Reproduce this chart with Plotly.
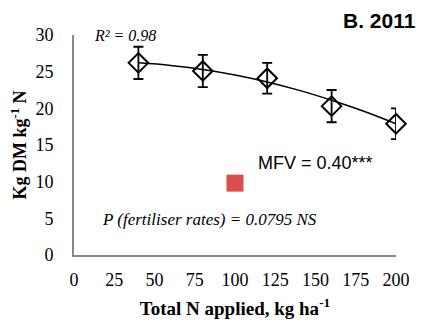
import plotly.graph_objects as go

n_rates = [40, 80, 120, 160, 200]
kg_dm = [26.2, 25.1, 24.1, 20.3, 17.9]
err = [2.2, 2.2, 2.1, 2.2, 2.1]

trend_x = [40, 60, 80, 100, 120, 140, 160, 180, 200]
trend_y = [26.2, 25.85, 25.3, 24.55, 23.6, 22.45, 21.1, 19.6, 17.9]

mfv_x = [100]
mfv_y = [9.8]

x_ticks = [0, 25, 50, 75, 100, 125, 150, 175, 200]
y_ticks = [0, 5, 10, 15, 20, 25, 30]

times = "Times New Roman, Liberation Serif, serif"
sans = "Liberation Sans, Arial, sans-serif"

fig = go.Figure()
fig.add_trace(go.Scatter(x=trend_x, y=trend_y, mode="lines", line=dict(color="black", width=1.5, shape="spline"),
                         hoverinfo="skip", showlegend=False))
fig.add_trace(go.Scatter(x=n_rates, y=kg_dm, mode="markers",
                         marker=dict(symbol="diamond-open", size=15, color="black", line=dict(width=2, color="black")),
                         error_y=dict(type="data", array=err, visible=True, color="black", thickness=1.8, width=5),
                         showlegend=False, cliponaxis=False))
fig.add_trace(go.Scatter(x=mfv_x, y=mfv_y, mode="markers",
                         marker=dict(symbol="square", size=17, color="#DC4D4D"),
                         showlegend=False, cliponaxis=False))

L, R, T, B = 74, 30, 35, 69
W, H = 426, 324

fig.update_layout(
    width=W, height=H,
    font=dict(family=times, size=18, color="black"),
    margin=dict(l=L, r=R, t=T, b=B, autoexpand=False),
    paper_bgcolor="white", plot_bgcolor="white",
    xaxis=dict(range=[0, 200], tickvals=x_ticks, ticktext=[str(v) for v in x_ticks],
               showgrid=False, zeroline=False, automargin=False,
               showline=True, linecolor="#888888", linewidth=2,
               ticks="outside", ticklen=7, tickcolor="rgba(0,0,0,0)",
               tickfont=dict(family=times, size=18, color="black"),
               title=dict(text="<b>Total N applied, kg ha<sup>-1</sup></b>", font=dict(family=times, size=19, color="black"), standoff=13)),
    yaxis=dict(range=[0, 30], tickvals=y_ticks, ticktext=[str(v) for v in y_ticks],
               showgrid=False, zeroline=False, automargin=False,
               showline=True, linecolor="#888888", linewidth=2,
               ticks="outside", ticklen=15, tickcolor="rgba(0,0,0,0)",
               tickfont=dict(family=times, size=18, color="black"),
               title=dict(text="<b>Kg DM kg<sup>-1</sup> N</b>", font=dict(family=times, size=18, color="black"), standoff=4)),
)

pw = W - L - R
ph = H - T - B

def ann(text, px, py, family, size, xanchor="left"):
    fig.add_annotation(text=text, x=(px - L) / pw, y=1 - (py - T) / ph, xref="paper", yref="paper",
                       showarrow=False, font=dict(family=family, size=size, color="black"),
                       xanchor=xanchor, yanchor="middle")

ann("<i>R² = 0.98</i>", 92, 35, times, 16)
ann("<b>B. 2011</b>", 418, 21, sans, 21, "right")
ann("MFV = 0.40***", 256, 163, sans, 18)
ann("<i>P (fertiliser rates) = 0.0795 NS</i>", 100, 219, times, 17)

fig.write_html("out.html", config={"displayModeBar": False},
               post_script="document.body.style.margin='0';document.body.style.padding='0';")
